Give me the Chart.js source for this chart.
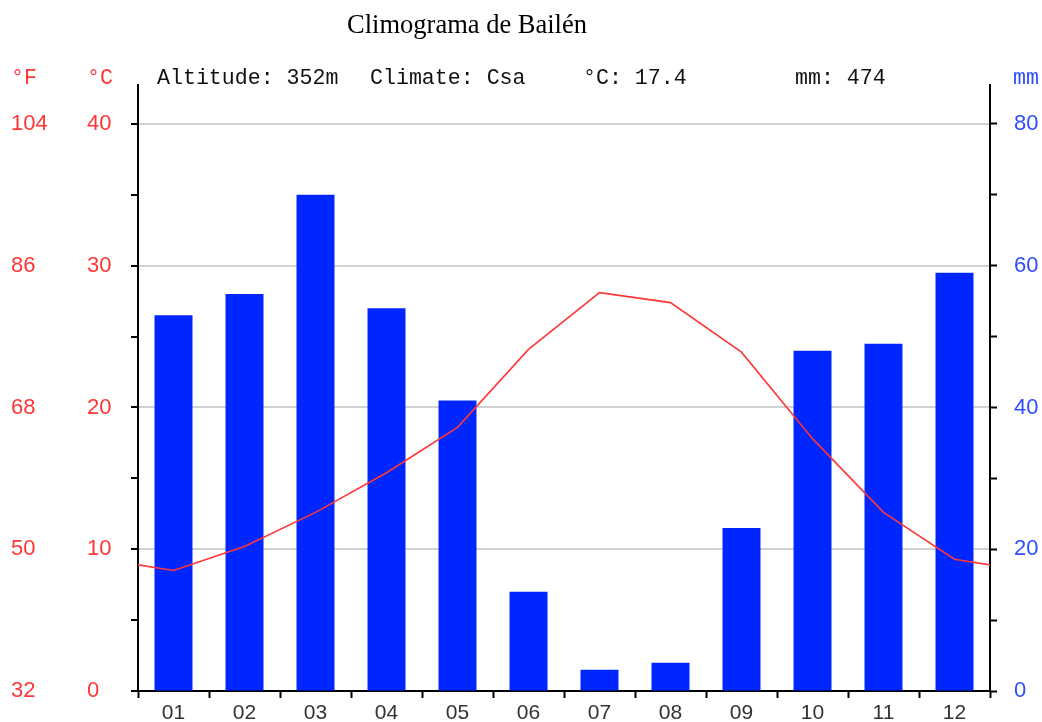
<!DOCTYPE html>
<html>
<head>
<meta charset="utf-8">
<script src="https://cdn.jsdelivr.net/npm/chart.js@4.4.0/dist/chart.umd.min.js"></script>
<style>
  html, body { margin: 0; padding: 0; background: #fff; }
</style>
</head>
<body>
<canvas id="climogram" width="1042" height="722"></canvas>
<script>
const months = ["01", "02", "03", "04", "05", "06", "07", "08", "09", "10", "11", "12"];
const precipitation = [53, 56, 70, 54, 41, 14, 3, 4, 23, 48, 49, 59];
const temperature = [8.5, 10.2, 12.6, 15.4, 18.6, 24.1, 28.1, 27.4, 23.9, 17.8, 12.6, 9.3];
const celsiusTicks = [0, 5, 10, 15, 20, 25, 30, 35, 40];
const fahrenheitTicks = [32, 50, 68, 86, 104];
const mmTicks = [0, 10, 20, 30, 40, 50, 60, 70, 80];
const headerTexts = ["Altitude: 352m", "Climate: Csa", "°C: 17.4", "mm: 474"];
const chartTitle = "Climograma de Bailén";

const RED = "#ff3636";
const BLUE = "#2f4dff";
const tickFont = { family: "Liberation Sans", size: 22 };

// temperature line wraps around: december before january, january after december
const tempPoints = [{ x: -0.5, y: temperature[11] }]
  .concat(temperature.map((t, i) => ({ x: i + 0.5, y: t })))
  .concat([{ x: 12.5, y: temperature[0] }]);

const textPlugin = {
  id: "climoText",
  afterDraw(chart) {
    const ctx = chart.ctx;
    ctx.save();
    ctx.textBaseline = "alphabetic";
    ctx.textAlign = "center";
    ctx.fillStyle = "#000";
    ctx.font = '26.5px "Liberation Serif"';
    ctx.fillText(chartTitle, 467, 33);

    ctx.textAlign = "left";
    ctx.font = '21.6px "Liberation Mono"';
    ctx.fillStyle = RED;
    ctx.fillText("°F", 11, 84);
    ctx.fillText("°C", 87, 84);
    ctx.fillStyle = "#111";
    const xs = [157, 370, 583, 795];
    headerTexts.forEach((t, i) => ctx.fillText(t, xs[i], 84));
    ctx.fillStyle = BLUE;
    ctx.fillText("mm", 1013, 84);
    ctx.restore();
  },
};

const ctx = document.getElementById("climogram").getContext("2d");

new Chart(ctx, {
  type: "bar",
  data: {
    labels: months,
    datasets: [
      {
        type: "line",
        data: tempPoints,
        xAxisID: "x2",
        yAxisID: "y",
        borderColor: RED,
        borderWidth: 1.6,
        pointRadius: 0,
        tension: 0,
        order: 1,
      },
      {
        type: "bar",
        data: precipitation,
        xAxisID: "x",
        yAxisID: "yMm",
        backgroundColor: "#0026ff",
        grouped: false,
        barPercentage: 0.535,
        categoryPercentage: 1,
        order: 2,
      },
    ],
  },
  options: {
    responsive: false,
    devicePixelRatio: 1,
    animation: false,
    layout: { padding: { left: 11, right: 0, top: 85, bottom: 0 } },
    plugins: {
      legend: { display: false },
      tooltip: { enabled: false },
      title: { display: false },
    },
    scales: {
      x: {
        type: "category",
        offset: true,
        grid: {
          offset: true,
          drawOnChartArea: false,
          tickLength: 7,
          tickWidth: 2,
          tickColor: "#000",
        },
        border: { color: "#000", width: 2 },
        ticks: {
          color: "#333",
          font: { family: "Liberation Sans", size: 21 },
          padding: 3,
          maxRotation: 0,
          autoSkip: false,
        },
        afterFit: (s) => { s.height = 31; },
      },
      x2: {
        type: "linear",
        position: "bottom",
        offset: false,
        min: 0,
        max: 12,
        display: false,
        grid: { offset: false },
      },
      y: {
        position: "left",
        weight: 1,
        min: 0,
        max: 42.75,
        afterBuildTicks: (s) => { s.ticks = celsiusTicks.map((v) => ({ value: v })); },
        ticks: {
          color: RED,
          font: tickFont,
          crossAlign: "far",
          autoSkip: false,
          callback: (v) => (v % 10 === 0 ? v : ""),
        },
        grid: {
          color: (c) => (c.tick && c.tick.value % 10 === 0 && c.tick.value > 0 ? "#d2d2d2" : "rgba(0,0,0,0)"),
          lineWidth: 2,
          tickColor: "#000",
          tickWidth: 2,
          tickLength: 7,
        },
        border: { color: "#000", width: 2 },
        afterFit: (s) => { s.width = 51; },
      },
      yF: {
        position: "left",
        weight: 2,
        min: 32,
        max: 108.95,
        afterBuildTicks: (s) => { s.ticks = fahrenheitTicks.map((v) => ({ value: v })); },
        ticks: { color: RED, font: tickFont, crossAlign: "far", autoSkip: false },
        grid: { display: false },
        border: { display: false },
        afterFit: (s) => { s.width = 76; },
      },
      yMm: {
        position: "right",
        min: 0,
        max: 85.5,
        afterBuildTicks: (s) => { s.ticks = mmTicks.map((v) => ({ value: v })); },
        ticks: {
          color: BLUE,
          font: tickFont,
          padding: 17,
          autoSkip: false,
          callback: (v) => (v % 20 === 0 ? v : ""),
        },
        grid: {
          drawOnChartArea: false,
          tickColor: "#000",
          tickWidth: 2,
          tickLength: 7,
        },
        border: { color: "#000", width: 2 },
        afterFit: (s) => { s.width = 52; },
      },
    },
  },
  plugins: [textPlugin],
});
</script>
</body>
</html>
